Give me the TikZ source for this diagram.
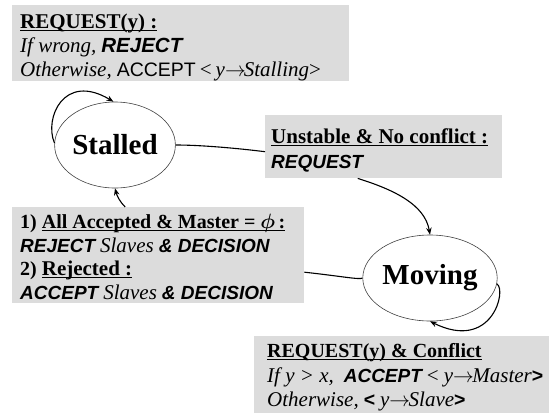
\documentclass[tikz,border=0pt]{standalone}
\usepackage{amsmath}
\usepackage{fontspec}
\setmainfont{Liberation Serif}
\newfontfamily\arialf{Liberation Sans}
\usetikzlibrary{shapes.geometric,arrows.meta,calc}
\newcommand{\hd}[1]{{\fontsize{21}{25}\selectfont\bfseries #1}}
\newcommand{\hdl}[1]{{\fontsize{20}{25}\selectfont\bfseries #1}}
\newcommand{\ti}[1]{{\fontsize{21}{25}\selectfont\itshape #1}}
\newcommand{\tr}[1]{{\fontsize{21}{25}\selectfont #1}}
\newcommand{\sbi}[1]{{\arialf\fontsize{19}{25}\selectfont\bfseries\itshape #1}}
\newcommand{\sbii}[1]{{\arialf\fontsize{20.5}{25}\selectfont\bfseries\itshape #1}}
\newcommand{\sbu}[1]{{\arialf\fontsize{19.5}{25}\selectfont\bfseries #1}}
\newcommand{\sr}[1]{{\arialf\fontsize{19.5}{25}\selectfont #1}}
\newcommand{\arw}{{\fontsize{21}{25}\selectfont$\rightarrow$}}
\newcommand{\ulx}[1]{\setbox0\hbox{#1}\rlap{\rule[-3.2pt]{\wd0}{0.9pt}}\box0}
\definecolor{boxgray}{RGB}{220,220,220}
\tikzset{
  boxnode/.style={fill=boxgray, draw=none, inner sep=0pt, anchor=north west},
  txt/.style={inner sep=0pt, anchor=base west, font=\fontsize{20}{25}\selectfont},
  state/.style={ellipse, draw=black!75, line width=0.6pt, minimum width=96pt, minimum height=86pt, inner sep=0pt, font=\fontsize{29}{30}\selectfont\bfseries},
  conn/.style={line width=1.1pt, black},
  arr/.style={conn, -{Stealth[length=7pt,width=5.5pt]}}
}
\begin{document}
\begin{tikzpicture}[x=1pt,y=-1pt]
\useasboundingbox (0,0) rectangle (549,413);
% boxes
\node[boxnode, minimum width=337pt, minimum height=76pt] (tb) at (12,5) {};
\node[boxnode, minimum width=237pt, minimum height=63pt] (ub) at (265,115) {};
\node[boxnode, minimum width=292pt, minimum height=96pt] (lb) at (12,207) {};
\node[boxnode, minimum width=295pt, minimum height=77pt] (bb) at (254,336) {};
% top box text
\node[txt] (t1) at (20,28) {\ulx{\hd{REQUEST(y) :}}};
\node[txt] (t2) at (20,52) {\ti{If wrong,} \sbii{REJECT}};
\node[txt] (t3) at (20,76) {\ti{Otherwise,} \sr{ACCEPT}\kern-1pt\ \tr{<}\kern-1pt\ \ti{y}\arw\kern-2pt\ti{Stalling}\tr{>}};
% unstable box text
\node[txt] (u1) at (271,143) {\ulx{\hd{Unstable \& No conflict :}}};
\node[txt] (u2) at (271,168) {{\arialf\fontsize{19}{25}\selectfont\bfseries\itshape REQUEST}};
% left box text
\node[txt] (l1) at (20,228) {\hdl{1)} \ulx{\hdl{All Accepted \& Master = $\boldsymbol{\phi}$\,:}}};
\node[txt] (l2) at (20,252) {\sbi{REJECT} \ti{Slaves} \sbi{\& DECISION}};
\node[txt] (l3) at (20,275) {\hdl{2)} \ulx{\hd{Rejected :}}};
\node[txt] (l4) at (20,299) {\sbi{ACCEPT} \ti{Slaves} \sbi{\& DECISION}};
% bottom box text
\node[txt] (b1) at (267,357) {\ulx{\hdl{REQUEST(y) \& Conflict}}};
\node[txt] (b2) at (267,382) {\ti{If y > x,}\ \ \sbi{ACCEPT} \tr{<} \ti{y}\arw\kern-1.5pt\ti{Master}\sbu{>}};
\node[txt] (b3) at (267,406) {\ti{Otherwise,} \sbu{<} \ti{y}\arw\kern-1.5pt\ti{Slave}\sbu{>}};
% states
\node[state] (st) at (115,145) {Stalled};
\node[state] (mv) at (430,278) {Moving};
% connectors
\draw[arr] (st.178) .. controls (44,118) and (64,72) .. (st.92);
\draw[conn] (st.east) .. controls (200,145) and (235,148) .. ([yshift=-5pt]ub.west);
\draw[arr] ([xshift=-26pt]ub.south) .. controls (395,190) and (425,205) .. (mv.north);
\draw[conn] ([yshift=-17pt]lb.east) .. controls (340,276) and (360,280) .. (mv.west);
\draw[arr] ([xshift=-33pt]lb.north) .. controls (120,202) and (117,196) .. (st.south);
\draw[arr] (mv.-5) .. controls (507,290) and (492,352) .. (mv.south);
\end{tikzpicture}
\end{document}
